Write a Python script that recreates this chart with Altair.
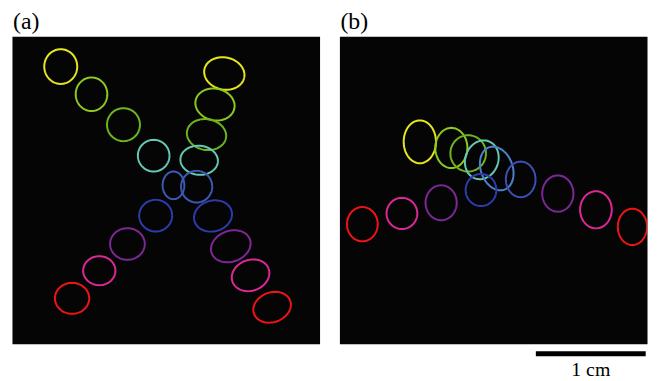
import numpy as np
import pandas as pd
import altair as alt

# ---- values (mm, image coordinates: y grows downward) ----
# Panel (a)
a_cx = [4.44, 7.24, 10.15, 12.90, 14.70, 13.08, 10.51, 7.95, 5.47,
        19.33, 18.48, 17.71, 17.04, 16.81, 18.30, 19.92, 21.72, 23.68]
a_cy = [2.76, 5.28, 8.05, 10.87, 13.57, 16.33, 18.91, 21.34, 23.86,
        3.39, 6.21, 8.95, 11.29, 13.69, 16.36, 19.12, 21.76, 24.67]
a_rx = [1.50, 1.44, 1.50, 1.44, 0.99, 1.50, 1.58, 1.47, 1.56,
        1.85, 1.80, 1.80, 1.71, 1.42, 1.75, 1.85, 1.75, 1.75]
a_ry = [1.58, 1.53, 1.50, 1.44, 1.26, 1.44, 1.44, 1.32, 1.41,
        1.46, 1.44, 1.40, 1.32, 1.44, 1.40, 1.40, 1.40, 1.35]
a_ang = [0, 0, 0, 0, 0, 0, 0, 0, 0,
         12, 12, 10, 5, 0, -15, -20, -20, -20]
a_col = ["#e6e61e", "#8cc81e", "#6eb41e", "#64c8b4", "#3c5ab4", "#2d3caa", "#7d2896", "#dc2896", "#f01414",
         "#e6e61e", "#8cc81e", "#6eb41e", "#64c8b4", "#3c5ab4", "#2d3caa", "#7d2896", "#dc2896", "#f01414"]

# Panel (b)
b_cx = [7.32, 10.19, 11.72, 12.96, 14.32, 16.50, 12.89, 9.26, 5.69, 2.09, 19.88, 23.35, 26.67]
b_cy = [9.61, 10.17, 10.66, 11.25, 12.04, 13.03, 14.00, 15.16, 16.13, 17.11, 14.32, 15.80, 17.35]
b_rx = [1.47, 1.46, 1.62, 1.50, 1.45, 1.35, 1.40, 1.42, 1.40, 1.40, 1.42, 1.44, 1.33]
b_ry = [1.95, 1.83, 1.65, 1.80, 2.05, 1.62, 1.46, 1.59, 1.42, 1.56, 1.65, 1.69, 1.65]
b_ang = [0, 0, 0, 20, -20, 0, 0, 0, 0, 0, 0, 0, 0]
b_col = ["#e6e61e", "#8cc81e", "#6eb41e", "#64c8b4", "#4b82c8", "#3c50b4", "#2d3caa",
         "#7d2896", "#dc2896", "#f01414", "#7d2896", "#dc2896", "#f01414"]

# panel labels
panel_labels = ["(a)", "(b)"]
label_pos_y = [-0.632]

# scale bar (1 cm) below panel (b)
bar_x = [17.88]
bar_x2 = [27.88]
bar_y = [28.90]
bar_label = ["1 cm"]
bar_label_y = [30.89]

PANEL_MM = 28.0
SIZE = 310


def outlines(cx, cy, rx, ry, ang, col):
    rows = []
    t = np.linspace(0, 2 * np.pi, 73)
    for i in range(len(cx)):
        a = np.deg2rad(ang[i])
        xs_ = cx[i] + rx[i] * np.cos(t) * np.cos(a) - ry[i] * np.sin(t) * np.sin(a)
        ys_ = cy[i] + rx[i] * np.cos(t) * np.sin(a) + ry[i] * np.sin(t) * np.cos(a)
        for k in range(len(t)):
            rows.append({"id": i, "k": k, "x": xs_[k], "y": ys_[k], "c": col[i]})
    return pd.DataFrame(rows)


xs = alt.Scale(domain=[0, PANEL_MM], nice=False, zero=False)
ys = alt.Scale(domain=[0, PANEL_MM], nice=False, zero=False, reverse=True)


def contour_layer(df):
    return alt.Chart(df).mark_line(strokeWidth=2, clip=True).encode(
        x=alt.X("x:Q", scale=xs, axis=None),
        y=alt.Y("y:Q", scale=ys, axis=None),
        detail="id:N",
        order="k:Q",
        color=alt.Color("c:N", scale=None),
    )


def label_layer(txt):
    df = pd.DataFrame({"x": [0.0], "y": label_pos_y, "t": [txt]})
    return alt.Chart(df).mark_text(font="Liberation Serif", fontSize=24, color="black",
                                   baseline="alphabetic", align="left", dx=1, clip=False).encode(
        x=alt.X("x:Q", scale=xs, axis=None), y=alt.Y("y:Q", scale=ys, axis=None), text="t:N")


panel_a = alt.layer(
    contour_layer(outlines(a_cx, a_cy, a_rx, a_ry, a_ang, a_col)),
    label_layer(panel_labels[0]),
).properties(width=SIZE, height=SIZE)

bar_df = pd.DataFrame({"x": bar_x, "x2": bar_x2, "y": bar_y})
lab_df = pd.DataFrame({"x": [(bar_x[0] + bar_x2[0]) / 2], "y": bar_label_y, "t": bar_label})

bar = alt.Chart(bar_df).mark_rule(strokeWidth=5, color="black", clip=False).encode(
    x=alt.X("x:Q", scale=xs, axis=None), x2="x2:Q", y=alt.Y("y:Q", scale=ys, axis=None))
lab = alt.Chart(lab_df).mark_text(font="Liberation Serif", fontSize=20, color="black",
                                  baseline="alphabetic", align="center", clip=False).encode(
    x=alt.X("x:Q", scale=xs, axis=None), y=alt.Y("y:Q", scale=ys, axis=None), text="t:N")

panel_b = alt.layer(
    contour_layer(outlines(b_cx, b_cy, b_rx, b_ry, b_ang, b_col)),
    label_layer(panel_labels[1]),
    bar, lab,
).properties(width=SIZE, height=SIZE)

chart = alt.hconcat(panel_a, panel_b, spacing=18).properties(
    padding={"left": 3, "top": 0, "right": 0, "bottom": 0},
    background="white",
).configure_view(fill="#050505", stroke="transparent")

chart.save("out.html", embed_options={"renderer": "svg", "actions": False})
